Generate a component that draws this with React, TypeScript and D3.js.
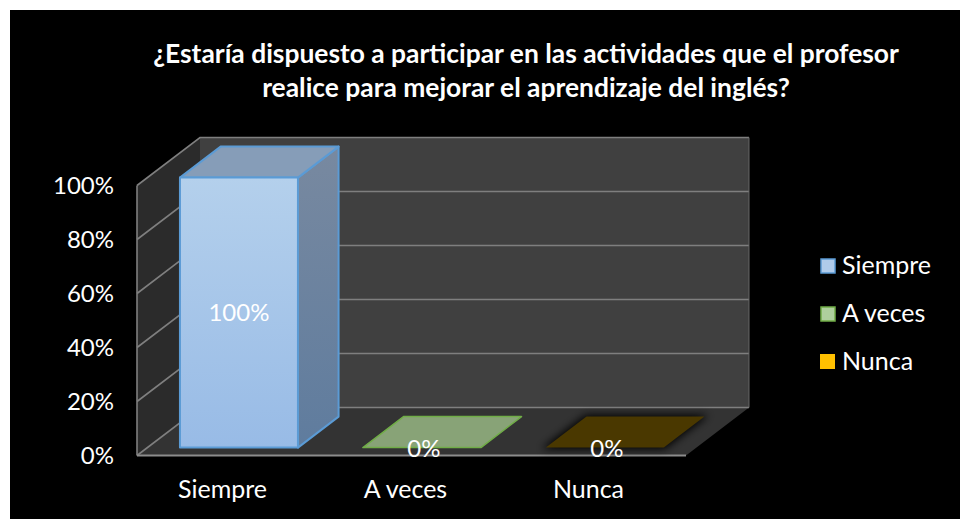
import React from "react";
import * as d3 from "d3";

const categories = ["Siempre", "A veces", "Nunca"];
const values = [100, 0, 0];
const yTicks = [0, 20, 40, 60, 80, 100];
const titleLines = [
  "¿Estaría dispuesto a participar en las actividades que el profesor",
  "realice para mejorar el aprendizaje del inglés?",
];
const frontColors = ["#a6c5e8", "#a0c38c", "#ffc000"];
const edgeColors = ["#5b9bd5", "#70ad47", "#ffc000"];
const FONT = "Lato, Carlito, Calibri, 'Open Sans', sans-serif";

const x = d3.scaleBand<string>().domain(categories).range([137, 686]).paddingInner(0.355).paddingOuter(0.178);
const y = d3.scaleLinear().domain([0, 100]).range([455.5, 185.5]);
const dx = d3.scaleLinear().domain([0, 1]).range([0, 63]);
const dy = d3.scaleLinear().domain([0, 1]).range([0, -48]);
const zFront = 0.165;
const zBack = 0.81;

type P = [number, number];
const pt = (px: number, v: number, z: number): P => [px + dx(z), y(v) + dy(z)];
const poly = (ps: P[]) => d3.line()(ps)! + "Z";

export default function App() {
  const xMin = x.range()[0];
  const xMax = x.range()[1];
  const bw = x.bandwidth();
  return (
    <svg width={960} height={519} style={{ position: "absolute", left: 0, top: 0, background: "#fff" }} fontFamily={FONT}>
      <defs>
        <linearGradient id="barFront" x1="0" y1="0" x2="0" y2="1">
          <stop offset="0" stopColor="#b4d0ec" />
          <stop offset="1" stopColor="#98bbe6" />
        </linearGradient>
        <linearGradient id="barSide" x1="0" y1="0" x2="0" y2="1">
          <stop offset="0" stopColor="#7889a0" />
          <stop offset="1" stopColor="#5f7c9e" />
        </linearGradient>
        <filter id="soft" x="-20%" y="-40%" width="140%" height="180%">
          <feGaussianBlur stdDeviation="4" />
        </filter>
      </defs>
      <rect x={10} y={10} width={950} height={509} fill="#000" />

      {/* walls and floor */}
      <path d={poly([pt(xMin, 0, 0), pt(xMin, 100, 0), pt(xMin, 100, 1), pt(xMin, 0, 1)])} fill="#2b2b2b" />
      <path d={poly([pt(xMin, 0, 1), pt(xMin, 100, 1), pt(xMax, 100, 1), pt(xMax, 0, 1)])} fill="#404040" />
      <path d={poly([pt(xMin, 0, 0), pt(xMin, 0, 1), pt(xMax, 0, 1), pt(xMax, 0, 0)])} fill="#333333" />

      {/* gridlines */}
      {yTicks.map((t) => (
        <path
          key={t}
          d={d3.line()([pt(xMin, t, 0), pt(xMin, t, 1), pt(xMax, t, 1)])!}
          fill="none"
          stroke="#7f7f7f"
          strokeWidth={1.6}
        />
      ))}
      <path d={d3.line()([pt(xMax, 0, 1), pt(xMax, 100, 1)])!} stroke="#666" strokeWidth={1} fill="none" />
      <path d={d3.line()([pt(xMin, 0, 0), pt(xMin, 100, 0)])!} stroke="#7f7f7f" strokeWidth={1.6} fill="none" />
      <path d={d3.line()([pt(xMin, 0, 0), pt(xMax, 0, 0)])!} stroke="#8c8c8c" strokeWidth={2} fill="none" />

      {/* bars */}
      {categories.map((c, i) => {
        const left = x(c)!;
        const right = left + bw;
        const v = values[i];
        if (v > 0) {
          const fa = pt(left, 0, zFront), fb = pt(right, 0, zFront), fc = pt(right, v, zFront), fd = pt(left, v, zFront);
          const bb = pt(right, 0, zBack), bc = pt(right, v, zBack), bd = pt(left, v, zBack);
          return (
            <g key={c} stroke={edgeColors[i]} strokeWidth={2} strokeLinejoin="round">
              <path d={poly([fc, bc, bb, fb])} fill="url(#barSide)" />
              <path d={poly([fd, bd, bc, fc])} fill="#869db8" />
              <path d={poly([fa, fb, fc, fd])} fill="url(#barFront)" />
            </g>
          );
        }
        const flat = poly([pt(left, 0, zFront), pt(right, 0, zFront), pt(right, 0, zBack), pt(left, 0, zBack)]);
        return i === 1 ? (
          <path key={c} d={flat} fill="#88a377" stroke={edgeColors[i]} strokeWidth={1.5} strokeLinejoin="round" />
        ) : (
          <g key={c}>
            <path d={flat} fill="#000" stroke="#000" strokeWidth={3} filter="url(#soft)" />
            <path d={flat} fill="#4a3800" />
          </g>
        );
      })}

      {/* data labels */}
      {categories.map((c, i) => {
        const frontCentre = x(c)! + bw / 2 + dx(zFront);
        const cx = values[i] > 0 ? frontCentre : frontCentre + 2;
        const cy = values[i] > 0 ? y(values[i] / 2) + dy(zFront) + 8 : 457;
        return (
          <text key={c} x={cx} y={cy} textAnchor="middle" fontSize={24} fill="#fff">
            {values[i]}%
          </text>
        );
      })}

      {/* y axis labels */}
      {yTicks.map((t) => (
        <text key={t} x={114} y={y(t) + 8.5} textAnchor="end" fontSize={24} fill="#fff">
          {t}%
        </text>
      ))}

      {/* category labels */}
      {categories.map((c) => (
        <text key={c} x={x(c)! + bw / 2 - 6} y={498} textAnchor="middle" fontSize={25} fill="#fff">
          {c}
        </text>
      ))}

      {/* title */}
      {titleLines.map((l, i) => (
        <text key={l} x={526} y={63 + i * 34} textAnchor="middle" fontSize={26.4} fontWeight={700} fill="#fff">
          {l}
        </text>
      ))}

      {/* legend */}
      {categories.map((c, i) => (
        <g key={c} transform={`translate(0, ${i * 48})`}>
          <rect
            x={i === 2 ? 820 : 821}
            y={i === 2 ? 258 : 259}
            width={i === 2 ? 15 : 14}
            height={i === 2 ? 15 : 14}
            fill={i === 2 ? frontColors[2] : i === 0 ? "#b0cbea" : "#aecf9d"}
            stroke={edgeColors[i]}
            strokeWidth={i === 2 ? 0 : 1.5}
          />
          <text x={842} y={274} fontSize={25} fill="#fff">
            {c}
          </text>
        </g>
      ))}
    </svg>
  );
}
